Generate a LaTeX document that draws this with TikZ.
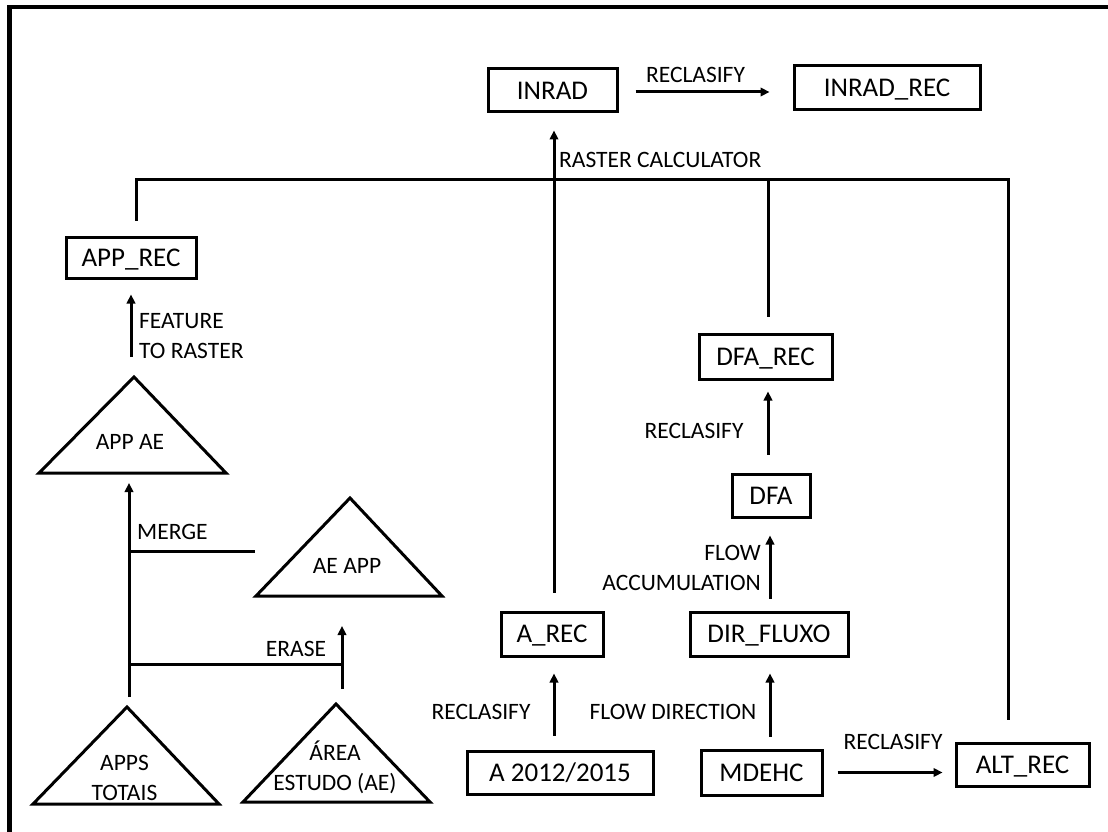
\documentclass[tikz,border=0pt]{standalone}
\usepackage{fontspec}
\setmainfont{Carlito}
\usetikzlibrary{arrows.meta,calc}
\begin{document}
\begin{tikzpicture}[x=1pt,y=-1pt,
  box/.style={draw,line width=3pt,inner sep=0pt,
    font=\fontsize{27}{32}\selectfont,text height=17.4pt,text depth=0pt},
  lbl/.style={inner sep=0pt,font=\fontsize{23.5}{30}\selectfont},
  tri/.style={draw,line width=3pt,line join=miter},
  conn/.style={line width=3pt},
  arr/.style={line width=3pt,-{Triangle[length=9pt,width=8.5pt]}},
]
\useasboundingbox (0,0) rectangle (1108,832);
\fill[white] (0,0) rectangle (1108,832);
% outer frame: only its top and left sides lie inside the page
\draw[line width=4.4pt,line join=miter] (9.5,832) -- (9.5,7) -- (1108,7);

% raster boxes
\node[box,minimum width=129pt,minimum height=43pt] (inrad)    at (552.5,90.5) {INRAD};
\node[box,minimum width=186pt,minimum height=44pt] (inradrec) at (887,88)     {INRAD\_REC};
\node[box,minimum width=130pt,minimum height=41pt] (apprec)   at (131,257.5)  {APP\_REC};
\node[box,minimum width=133pt,minimum height=45pt] (dfarec)   at (765.5,356.5){DFA\_REC};
\node[box,minimum width=78pt,minimum height=43pt]  (dfa)      at (771,495.5)  {DFA};
\node[box,minimum width=102pt,minimum height=44pt] (arec)     at (552,634)    {A\_REC};
\node[box,minimum width=158pt,minimum height=44pt] (dirfluxo) at (769,634)    {DIR\_FLUXO};
\node[box,minimum width=186pt,minimum height=43pt] (a2012)    at (560,772.5)  {A 2012/2015};
\node[box,minimum width=121pt,minimum height=45pt] (mdehc)    at (761.5,772.5){MDEHC};
\node[box,minimum width=133pt,minimum height=43pt] (altrec)   at (1022.5,764.5){ALT\_REC};

% vector layers (triangles)
\coordinate (appae-top) at (134,377);
\coordinate (appae-bl)  at (39,473);
\coordinate (appae-br)  at (226,473);
\draw[tri] (appae-top) -- (appae-bl) -- (appae-br) -- cycle;
\node[lbl] (appae) at (130,442) {APP AE};

\coordinate (aeapp-top) at (350,498);
\coordinate (aeapp-bl)  at (256,596);
\coordinate (aeapp-br)  at (442,596);
\draw[tri] (aeapp-top) -- (aeapp-bl) -- (aeapp-br) -- cycle;
\node[lbl] (aeapp) at (347,566) {AE APP};

\coordinate (apps-top) at (127,707);
\coordinate (apps-bl)  at (33,804);
\coordinate (apps-br)  at (219,804);
\draw[tri] (apps-top) -- (apps-bl) -- (apps-br) -- cycle;
\node[lbl,align=center] (apps) at (124.5,777.5) {APPS\\TOTAIS};

\coordinate (area-top) at (336,704);
\coordinate (area-bl)  at (243,802);
\coordinate (area-br)  at (430,802);
\draw[tri] (area-top) -- (area-bl) -- (area-br) -- cycle;
\node[lbl,align=center] (area) at (335,767) {ÁREA\\ESTUDO (AE)};

% operation labels
\node[lbl] (lreclass1) at (695.5,75) {RECLASIFY};
\node[lbl,anchor=west] (lraster) at (559,160) {RASTER CALCULATOR};
\node[lbl,anchor=west,align=left] (lfeat) at (139,336) {FEATURE\\TO RASTER};
\node[lbl,anchor=west] (lmerge) at (137,532) {MERGE};
\node[lbl] (lerase) at (296,649) {ERASE};
\node[lbl] (lreclass2) at (694,431) {RECLASIFY};
\node[lbl,anchor=east,align=right] (lflowacc) at (761,568) {FLOW\\ACCUMULATION};
\node[lbl] (lreclass3) at (481,712) {RECLASIFY};
\node[lbl] (lflowdir) at (673,712) {FLOW DIRECTION};
\node[lbl] (lreclass4) at (893,742) {RECLASIFY};

% raster calculator bus
\coordinate (busL) at (136,179);
\coordinate (busR) at (1008,179);
\draw[conn] ($(busL |- apprec.north)+(0,-15)$) -- (busL) -- (busR)
            -- ($(busR |- altrec.north)+(0,-22)$);
\draw[conn] ($(dfarec.north)+(2.5,-16)$) -- ($(dfarec.north |- busL)+(2.5,0)$);
\draw[arr] ($(arec.north)+(2,-18)$) -- ($(arec.north |- inrad.south)+(2,17)$);
\draw[arr] ($(inrad.east)+(17,1.5)$) -- ($(inradrec.west |- inrad.east)+(-23,1.5)$);

% right-hand chains
\draw[arr] ($(arec.south |- a2012.north)+(2,-14)$) -- ($(arec.south)+(2,16)$);
\draw[arr] ($(dirfluxo.south |- mdehc.north)+(1,-12)$) -- ($(dirfluxo.south)+(1,16)$);
\draw[arr] ($(dirfluxo.north)+(1,-12)$) -- ($(dirfluxo.north |- dfa.south)+(1,17)$);
\draw[arr] ($(dfa.north)+(-3,-18)$) -- ($(dfa.north |- dfarec.south)+(-3,11)$);
\draw[arr] ($(mdehc.east)+(14,0)$) -- ($(altrec.west |- mdehc.east)+(-12,0)$);

% vector chain
\coordinate (mainB) at (129,697);
\coordinate (mergeJ) at (129,551);
\coordinate (mergeE) at (255,551);
\coordinate (eraseJ) at (129,664);
\coordinate (eraseE) at (342,664);
\draw[arr] (mainB) -- ($(mainB |- appae-bl)+(0,10)$);
\draw[conn] (mergeJ) -- (mergeE);
\draw[conn] (eraseJ) -- (eraseE);
\draw[arr] ($(eraseE |- area-top)+(0,-15)$) -- ($(eraseE |- aeapp-bl)+(0,30)$);
\draw[arr] ($(appae-top)+(-3,-20)$) -- ($(appae-top |- apprec.south)+(-3,15)$);
\end{tikzpicture}
\end{document}
